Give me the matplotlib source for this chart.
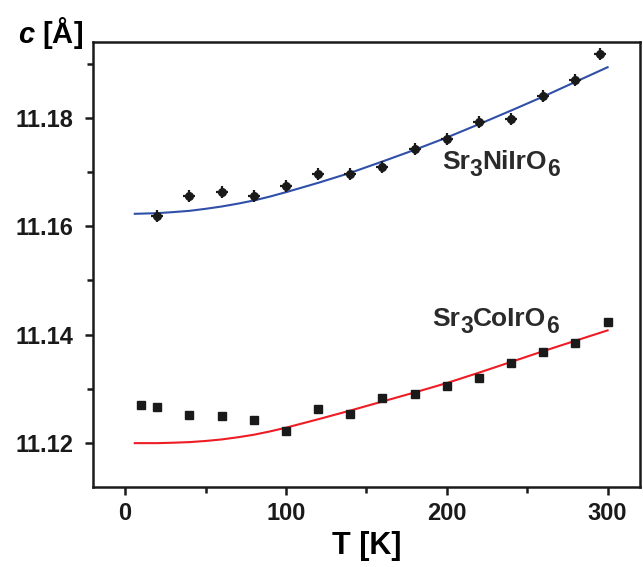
import matplotlib.pyplot as plt
from matplotlib.ticker import MultipleLocator

plt.rcParams['font.family'] = ['Liberation Sans', 'DejaVu Sans']
plt.rcParams['mathtext.fontset'] = 'custom'
plt.rcParams['mathtext.rm'] = 'Liberation Sans:bold'
plt.rcParams['mathtext.it'] = 'Liberation Sans:italic:bold'
plt.rcParams['mathtext.bf'] = 'Liberation Sans:bold'

# Sr3NiIrO6 measured points
T_ni = [20, 40, 60, 80, 100, 120, 140, 160, 180, 200, 220, 240, 260, 280, 295]
c_ni = [11.1619, 11.1656, 11.1664, 11.1655, 11.1675, 11.1696, 11.1697, 11.1710,
        11.1742, 11.1761, 11.1793, 11.1798, 11.1840, 11.1870, 11.1917]

# Sr3CoIrO6 measured points
T_co = [10, 20, 40, 60, 80, 100, 120, 140, 160, 180, 200, 220, 240, 260, 280, 300]
c_co = [11.1271, 11.1267, 11.1252, 11.1250, 11.1243, 11.1223, 11.1263, 11.1254,
        11.1283, 11.1290, 11.1305, 11.1321, 11.1347, 11.1369, 11.1385, 11.1424]

# fit curves
T_fit = [6, 20, 30, 40, 50, 60, 70, 80, 90, 100, 120, 140, 160, 180, 200, 220, 240, 260, 280, 300]
fit_ni = [11.16230, 11.16242, 11.16262, 11.16285, 11.16322, 11.16365, 11.16417, 11.16476,
          11.16548, 11.16629, 11.16801, 11.16986, 11.17195, 11.17410, 11.17637, 11.17883,
          11.18135, 11.18393, 11.18664, 11.18934]
fit_co = [11.12000, 11.12000, 11.12008, 11.12019, 11.12040, 11.12068, 11.12108, 11.12155,
          11.12216, 11.12285, 11.12440, 11.12601, 11.12768, 11.12935, 11.13108, 11.13300,
          11.13498, 11.13697, 11.13889, 11.14080]


def formula(ax, x, y, parts, size=19, sub_size=16.5, drop=5):
    # chain text pieces one after another, lowering the subscripts
    kw = dict(fontweight='bold', color='#2a2a2a', va='bottom', ha='left')
    prev = ax.text(x, y, parts[0][0], fontsize=size, **kw)
    was_sub = False
    for txt, sub in parts[1:]:
        dy = -drop if sub else (drop if was_sub else 0)
        prev = ax.annotate(txt, xy=(1, 0), xycoords=prev, xytext=(0, dy),
                           textcoords='offset points',
                           fontsize=sub_size if sub else size, **kw)
        was_sub = sub


fig = plt.figure(figsize=(6.43, 5.67), dpi=100)
ax = fig.add_axes([0.1446, 0.141, 0.8504, 0.785])

ax.plot(T_fit, fit_ni, color='#2f4fa8', lw=1.5)
ax.plot(T_fit, fit_co, color='#ee1c24', lw=1.5)
ax.plot(T_ni, c_ni, 'o', color='#1a1a1a', ms=5.5)
ax.plot(T_ni, c_ni, '+', color='#1a1a1a', ms=8, mew=1.6)
ax.plot(T_co, c_co, 's', color='#1a1a1a', ms=5.5)

formula(ax, 197, 11.1697, [('Sr', False), ('3', True), ('NiIrO', False), ('6', True)])
formula(ax, 191, 11.1406, [('Sr', False), ('3', True), ('CoIrO', False), ('6', True)])

ax.set_xlim(-20, 320)
ax.set_ylim(11.1119, 11.194)
ax.xaxis.set_major_locator(MultipleLocator(100))
ax.xaxis.set_minor_locator(MultipleLocator(50))
ax.yaxis.set_major_locator(MultipleLocator(0.02))
ax.yaxis.set_minor_locator(MultipleLocator(0.01))
ax.yaxis.set_major_formatter(plt.FormatStrFormatter('%.2f'))

for s in ax.spines.values():
    s.set_linewidth(1.8)
    s.set_color('#1a1a1a')
ax.tick_params(which='both', direction='out', width=1.8, color='#1a1a1a')
ax.tick_params(which='major', length=6, labelsize=17)
ax.tick_params(axis='x', which='major', pad=5)
ax.tick_params(axis='y', which='major', pad=8)
ax.tick_params(which='minor', length=4)
for lab in ax.get_xticklabels() + ax.get_yticklabels():
    lab.set_fontweight('bold')
    lab.set_color('#1a1a1a')

ax.set_xlabel('T [K]', fontsize=22, fontweight='bold', labelpad=4)
fig.text(0.078, 0.942, r'$c$ [Å]', fontsize=21, fontweight='bold',
         ha='center', va='center')

fig.savefig('out.png', dpi=100)
